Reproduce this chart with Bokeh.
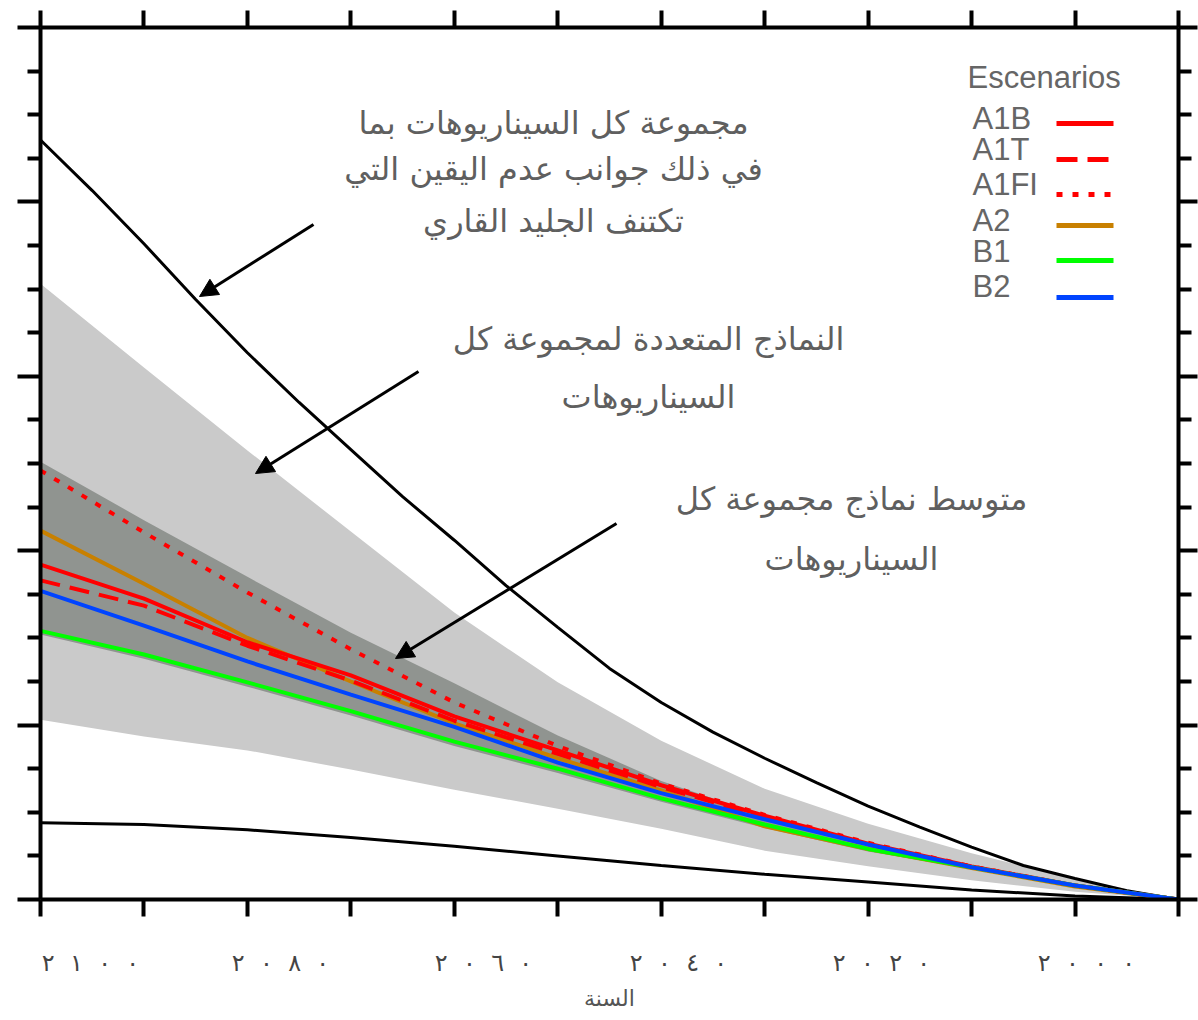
from bokeh.plotting import figure
from bokeh.models import (Range1d, FixedTicker, LinearAxis, Arrow, NormalHead,
                          Label, CustomJSTickFormatter)
from bokeh.embed import file_html
from bokeh.resources import INLINE

# ---------------- data (sea level rise, metres) ----------------
years = [2100, 2090, 2080, 2070, 2060, 2050, 2040, 2030, 2020, 2010, 2000, 1990]
years_fine = [2100, 2095, 2090, 2085, 2080, 2075, 2070, 2065, 2060, 2055, 2050, 2045,
              2040, 2035, 2030, 2025, 2020, 2015, 2010, 2005, 2000, 1995, 1990]

# upper black curve, read every 5 years
land_ice_upper = [0.871, 0.813, 0.752, 0.688, 0.627, 0.570, 0.516, 0.462, 0.412, 0.360,
                  0.312, 0.265, 0.226, 0.192, 0.162, 0.134, 0.107, 0.083, 0.060, 0.039,
                  0.024, 0.010, 0.0]
land_ice_lower = [0.088, 0.086, 0.080, 0.071, 0.061, 0.050, 0.039, 0.029, 0.020, 0.011, 0.004, 0.0]
models_upper = [0.706, 0.610, 0.515, 0.422, 0.329, 0.249, 0.182, 0.127, 0.087, 0.053, 0.024, 0.0]
models_lower = [0.206, 0.187, 0.171, 0.149, 0.126, 0.104, 0.081, 0.056, 0.038, 0.022, 0.009, 0.0]
avg_upper = [0.502, 0.435, 0.370, 0.306, 0.248, 0.188, 0.136, 0.096, 0.064, 0.039, 0.017, 0.0]
avg_lower = [0.304, 0.276, 0.244, 0.211, 0.176, 0.145, 0.112, 0.082, 0.055, 0.035, 0.015, 0.0]

a1b = [0.384, 0.345, 0.295, 0.257, 0.210, 0.171, 0.131, 0.096, 0.064, 0.038, 0.016, 0.0]
a1t = [0.366, 0.337, 0.291, 0.251, 0.205, 0.167, 0.129, 0.094, 0.063, 0.037, 0.016, 0.0]
a1fi = [0.492, 0.421, 0.352, 0.287, 0.226, 0.176, 0.133, 0.097, 0.065, 0.038, 0.016, 0.0]
a2 = [0.423, 0.362, 0.300, 0.250, 0.202, 0.162, 0.125, 0.084, 0.058, 0.036, 0.015, 0.0]
b1 = [0.308, 0.281, 0.249, 0.216, 0.181, 0.150, 0.116, 0.086, 0.058, 0.037, 0.016, 0.0]
b2 = [0.354, 0.314, 0.273, 0.235, 0.198, 0.157, 0.122, 0.092, 0.063, 0.037, 0.016, 0.0]

x_tick_values = [2100, 2090, 2080, 2070, 2060, 2050, 2040, 2030, 2020, 2010, 2000, 1990]
x_tick_labels = ["٢١٠٠", "٢٠٨٠", "٢٠٦٠", "٢٠٤٠", "٢٠٢٠", "٢٠٠٠"]
y_major = [0.0, 0.2, 0.4, 0.6, 0.8, 1.0]
y_minor = [0.05, 0.1, 0.15, 0.25, 0.3, 0.35, 0.45, 0.5, 0.55, 0.65, 0.7, 0.75, 0.85, 0.9, 0.95]

x_axis_title = "السنة"
legend_title = "Escenarios"
legend_names = ["A1B", "A1T", "A1FI", "A2", "B1", "B2"]

note_envelope_ice = ["مجموعة كل السيناريوهات بما", "في ذلك جوانب عدم اليقين التي", "تكتنف الجليد القاري"]
note_envelope_models = ["النماذج المتعددة لمجموعة كل", "السيناريوهات"]
note_model_average = ["متوسط نماذج مجموعة كل", "السيناريوهات"]


# spaced digits: LRM + no-break spaces keep left-to-right order and the gaps
def spaced(s):
    return ("\u200e\u00a0\u00a0").join(list(s))


# ---------------- layout helpers (page pixel -> data) ----------------
FX0, FX1, FY0, FY1 = 40, 1178, 27, 899


def dx(px):
    return 2100 - (px - FX0) * 110.0 / (FX1 - FX0)


def dy(py):
    return (FY1 - py) / float(FY1 - FY0)


W, H = 1198, 1020
p = figure(width=W, height=H,
           x_range=Range1d(2100, 1990), y_range=Range1d(0, 1.0),
           output_backend="svg", toolbar_location=None,
           x_axis_location=None, y_axis_location=None,
           min_border_left=FX0, min_border_right=W - FX1,
           min_border_top=FY0, min_border_bottom=H - FY1)
p.grid.visible = False
p.outline_line_color = None
p.background_fill_color = "white"

empty_fmt = CustomJSTickFormatter(code="return ''")


def style_axis(ax, major_out, minor_out):
    ax.axis_line_color = "black"
    ax.axis_line_width = 4
    ax.major_tick_line_color = "black"
    ax.major_tick_line_width = 4
    ax.minor_tick_line_color = "black"
    ax.minor_tick_line_width = 4
    ax.major_tick_in = 0
    ax.minor_tick_in = 0
    ax.major_tick_out = major_out
    ax.minor_tick_out = minor_out


def no_labels(ax):
    ax.formatter = empty_fmt
    ax.major_label_standoff = 0
    ax.major_label_text_font_size = "0px"


xb = LinearAxis(ticker=FixedTicker(ticks=x_tick_values))
style_axis(xb, 17, 0)
no_labels(xb)
p.add_layout(xb, "below")

# label row under the tick row (labels sit where the original put them)
label_centers_px = [90, 280, 483, 678, 881, 1086]
label_pos = [round(dx(c), 3) for c in label_centers_px]
label_fmt = CustomJSTickFormatter(
    args=dict(vals=label_pos, labs=[spaced(s) for s in x_tick_labels]),
    code="let best = ''; let d = 1e9; for (let i = 0; i < vals.length; i++) {"
         " const e = Math.abs(vals[i] - tick); if (e < d) { d = e; best = labs[i]; } }"
         " return d < 0.05 ? best : '';")
xl = LinearAxis(ticker=FixedTicker(ticks=label_pos), formatter=label_fmt,
                axis_label=x_axis_title)
xl.axis_line_color = None
xl.major_tick_line_color = None
xl.minor_tick_line_color = None
xl.major_tick_out = 0
xl.major_tick_in = 0
xl.minor_tick_out = 0
xl.minor_tick_in = 0
xl.major_label_text_font = "DejaVu Sans"
xl.major_label_text_font_size = "24px"
xl.major_label_text_color = "#444444"
xl.major_label_standoff = 32
xl.axis_label_text_font = "DejaVu Sans"
xl.axis_label_text_font_size = "22px"
xl.axis_label_text_font_style = "normal"
xl.axis_label_text_color = "#555555"
xl.axis_label_standoff = 6
p.add_layout(xl, "below")

xt = LinearAxis(ticker=FixedTicker(ticks=x_tick_values))
style_axis(xt, 17, 0)
no_labels(xt)
p.add_layout(xt, "above")

yl = LinearAxis(ticker=FixedTicker(ticks=y_major, minor_ticks=y_minor))
style_axis(yl, 23, 13)
no_labels(yl)
p.add_layout(yl, "left")

yr = LinearAxis(ticker=FixedTicker(ticks=y_major, minor_ticks=y_minor))
style_axis(yr, 19, 13)
no_labels(yr)
p.add_layout(yr, "right")

# ---------------- envelopes ----------------
p.varea(x=years, y1=models_lower, y2=models_upper, fill_color="#cacaca")
p.varea(x=years, y1=avg_lower, y2=avg_upper, fill_color="#909490")

p.line(years_fine, land_ice_upper, line_color="black", line_width=3)
p.line(years, land_ice_lower, line_color="black", line_width=3)

# ---------------- scenarios ----------------
p.line(years, a2, line_color="#c88000", line_width=4)
p.line(years, a1fi, line_color="#ff0000", line_width=4, line_dash="6 10")
p.line(years, a1t, line_color="#ff0000", line_width=4, line_dash="20 10")
p.line(years, a1b, line_color="#ff0000", line_width=4)
p.line(years, b1, line_color="#00ff00", line_width=4)
p.line(years, b2, line_color="#0044ff", line_width=4)

# ---------------- arrows ----------------
arrow_px = [((313, 224), (199, 296)), ((418, 371), (255, 473)), ((616, 523), (395, 658))]
for (sx, sy), (ex, ey) in arrow_px:
    p.add_layout(Arrow(x_start=dx(sx), y_start=dy(sy), x_end=dx(ex), y_end=dy(ey),
                       line_color="black", line_width=3,
                       end=NormalHead(size=18, fill_color="black", line_color="black")))


# ---------------- annotations ----------------
def add_lines(lines, cx, ys):
    for t, yy in zip(lines, ys):
        p.add_layout(Label(x=dx(cx), y=dy(yy), text=t, text_align="center",
                           text_baseline="middle", text_font="DejaVu Sans",
                           text_font_size="32px", text_color="#5f5f5f"))


add_lines(note_envelope_ice, 553, [122, 168, 220])
add_lines(note_envelope_models, 648, [338, 396])
add_lines(note_model_average, 851, [498, 558])

# ---------------- legend ----------------
p.add_layout(Label(x=dx(967), y=dy(77), text=legend_title, text_align="left",
                   text_baseline="middle", text_font="Liberation Sans",
                   text_font_size="31px", text_color="#666666"))
leg_text_y = [118, 149, 184, 220, 251, 286]
leg_line_y = [123, 159, 194, 225, 260, 297]
leg_styles = [("#ff0000", "solid"), ("#ff0000", "21 10"), ("#ff0000", "6 10"),
              ("#c88000", "solid"), ("#00ff00", "solid"), ("#0044ff", "solid")]
for name, ty, ly, (col, dash) in zip(legend_names, leg_text_y, leg_line_y, leg_styles):
    p.add_layout(Label(x=dx(972), y=dy(ty), text=name, text_align="left",
                       text_baseline="middle", text_font="Liberation Sans",
                       text_font_size="31px", text_color="#666666"))
    p.segment(x0=[dx(1056)], y0=[dy(ly)], x1=[dx(1113)], y1=[dy(ly)],
              line_color=col, line_width=5, line_dash=dash)

open("out.html", "w").write(file_html(p, INLINE))
